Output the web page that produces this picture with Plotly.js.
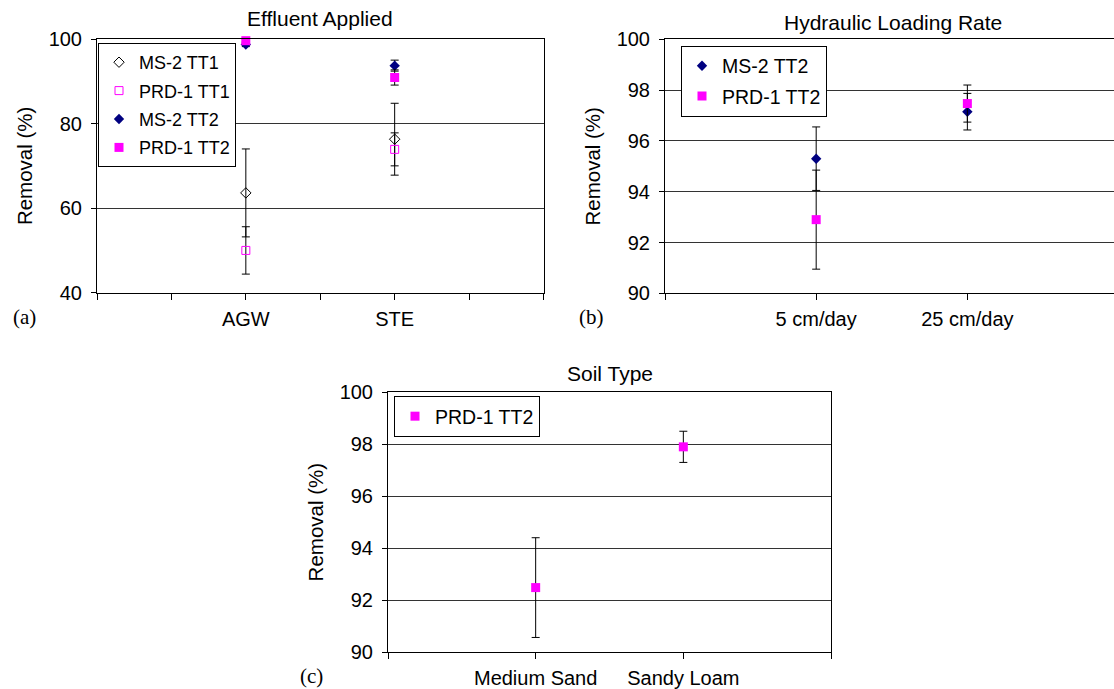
<!DOCTYPE html>
<html>
<head>
<meta charset="utf-8">
<script src="https://cdn.plot.ly/plotly-3.0.1.min.js"></script>
<style>
  html, body { margin: 0; padding: 0; background: #fff; }
  #chart { width: 1114px; height: 689px; }
</style>
</head>
<body>
<div id="chart"></div>
<script>
// ---------------- data ----------------
// Panel (a): Effluent Applied
const catsA = ['AGW', 'STE'];
const ms2TT1_A = [63.6, 76.3];
const ms2TT1_A_err = [10.4, 8.5];
const prd1TT1_A = [50.0, 73.9];
const prd1TT1_A_err = [5.6, 3.9];
const ms2TT2_A = [98.7, 93.7];
const ms2TT2_A_err = [0.5, 1.3];
const prd1TT2_A = [99.6, 90.9];
const prd1TT2_A_err = [0.3, 1.8];

// Panel (b): Hydraulic Loading Rate
const catsB = ['5 cm/day', '25 cm/day'];
const ms2TT2_B = [95.3, 97.15];
const ms2TT2_B_err = [1.25, 0.72];
const prd1TT2_B = [92.9, 97.47];
const prd1TT2_B_err = [1.95, 0.73];

// Panel (c): Soil Type
const catsC = ['Medium Sand', 'Sandy Loam'];
const prd1TT2_C = [92.48, 97.9];
const prd1TT2_C_err = [1.92, 0.6];

// tick labels
const yTicksA = [40, 60, 80, 100];
const yTicksBC = [90, 92, 94, 96, 98, 100];
const titles = ['Effluent Applied', 'Hydraulic Loading Rate', 'Soil Type'];
const panelLabels = ['(a)', '(b)', '(c)'];
const yTitle = 'Removal (%)';

// ---------------- helpers ----------------
const FONT = 'Arial, "Liberation Sans", Helvetica, sans-serif';
const SERIF = '"Times New Roman", "Liberation Serif", "DejaVu Serif", serif';
const NAVY = '#000080';
const MAG = '#FF00FF';

const pos = cats => cats.map((c, i) => i + 1);
const tickText = (vals, cats) => vals.map(v =>
  (Number.isInteger(v) && v >= 1 && v <= cats.length) ? cats[v - 1] : '');

function err(arr) {
  return { type: 'data', array: arr, visible: true, color: '#000', thickness: 1, width: 4 };
}

const sym = {
  ms2TT1: { symbol: 'diamond-open', color: '#000', size: 8, line: { width: 1, color: '#000' } },
  prd1TT1: { symbol: 'square-open', color: MAG, size: 8, line: { width: 1, color: MAG } },
  ms2TT2: { symbol: 'diamond', color: NAVY, size: 8, line: { width: 0 } },
  prd1TT2: { symbol: 'square', color: MAG, size: 9, line: { width: 0 } }
};

function tr(x, y, e, name, marker, xa, ya, legend, grp) {
  return {
    type: 'scatter', mode: 'markers', x: x, y: y, name: name,
    marker: marker, error_y: err(e), xaxis: xa, yaxis: ya,
    legend: legend, legendgroup: grp, cliponaxis: false
  };
}

const xA = pos(catsA), xB = pos(catsB), xC = pos(catsC);

const data = [
  tr(xA, ms2TT1_A, ms2TT1_A_err, 'MS-2 TT1', sym.ms2TT1, 'x', 'y', 'legend', 'a1'),
  tr(xA, prd1TT1_A, prd1TT1_A_err, 'PRD-1 TT1', sym.prd1TT1, 'x', 'y', 'legend', 'a2'),
  tr(xA, ms2TT2_A, ms2TT2_A_err, 'MS-2 TT2', sym.ms2TT2, 'x', 'y', 'legend', 'a3'),
  tr(xA, prd1TT2_A, prd1TT2_A_err, 'PRD-1 TT2', sym.prd1TT2, 'x', 'y', 'legend', 'a4'),
  tr(xB, ms2TT2_B, ms2TT2_B_err, 'MS-2 TT2', sym.ms2TT2, 'x2', 'y2', 'legend2', 'b1'),
  tr(xB, prd1TT2_B, prd1TT2_B_err, 'PRD-1 TT2', sym.prd1TT2, 'x2', 'y2', 'legend2', 'b2'),
  tr(xC, prd1TT2_C, prd1TT2_C_err, 'PRD-1 TT2', sym.prd1TT2, 'x3', 'y3', 'legend3', 'c1')
];

// ---------------- layout ----------------
const W = 1114, H = 689;
const px = v => v / W;
const py = v => 1 - v / H;

function xaxis(domain, range, tickvals, cats, mirror, anchor) {
  return {
    domain: domain, range: range, anchor: anchor,
    tickmode: 'array', tickvals: tickvals, ticktext: tickText(tickvals, cats),
    ticks: 'outside', ticklen: 6, tickwidth: 1, tickcolor: '#000',
    showline: true, linecolor: '#000', linewidth: 1, mirror: mirror,
    showgrid: false, zeroline: false, fixedrange: true,
    ticklabelstandoff: 2,
    tickfont: { family: FONT, size: 20, color: '#000' }
  };
}
function yaxis(domain, range, tickvals, mirror, anchor) {
  return {
    domain: domain, range: range, anchor: anchor,
    tickmode: 'array', tickvals: tickvals,
    ticks: 'outside', ticklen: 5, tickwidth: 1, tickcolor: '#000',
    showline: true, linecolor: '#000', linewidth: 1, mirror: mirror,
    showgrid: true, gridcolor: '#333', gridwidth: 1, zeroline: false, fixedrange: true,
    ticklabelstandoff: 5,
    tickfont: { family: FONT, size: 20, color: '#000' },
    title: { text: yTitle, font: { family: FONT, size: 20.5, color: '#000' }, standoff: 10 }
  };
}
function legend(x, y, yanchor, fs) {
  return {
    x: x, y: y, xanchor: 'left', yanchor: yanchor, xref: 'paper', yref: 'paper',
    bgcolor: '#fff', bordercolor: '#000', borderwidth: 1,
    font: { family: FONT, size: fs, color: '#000' },
    tracegroupgap: 2, itemclick: false, itemdoubleclick: false
  };
}

const layout = {
  width: W, height: H,
  margin: { l: 0, r: 0, t: 0, b: 0 },
  paper_bgcolor: '#fff', plot_bgcolor: '#fff',
  font: { family: FONT, color: '#000' },
  showlegend: true,
  xaxis: xaxis([px(97), px(543.5)], [0, 3], [0, 0.5, 1, 1.5, 2, 2.5, 3], catsA, true, 'y'),
  yaxis: yaxis([py(292.7), py(39)], [40, 100], yTicksA, true, 'x'),
  xaxis2: xaxis([px(665), 1], [0, 2.97], [0, 1, 2], catsB, true, 'y2'),
  yaxis2: yaxis([py(293.3), py(39.3)], [90, 100], yTicksBC, false, 'x2'),
  xaxis3: xaxis([px(388), px(831)], [0, 3], [0, 1, 2, 3], catsC, true, 'y3'),
  yaxis3: yaxis([py(652), py(392.3)], [90, 100], yTicksBC, true, 'x3'),
  legend: legend(px(98), py(105), 'middle', 18),
  legend2: legend(px(681), py(81), 'middle', 19.5),
  legend3: legend(px(394), py(416.5), 'middle', 19.5),
  annotations: [
    { text: titles[0], x: px(320), y: py(18), xref: 'paper', yref: 'paper', showarrow: false,
      xanchor: 'center', yanchor: 'middle', font: { family: FONT, size: 21, color: '#000' } },
    { text: titles[1], x: px(893), y: py(22), xref: 'paper', yref: 'paper', showarrow: false,
      xanchor: 'center', yanchor: 'middle', font: { family: FONT, size: 21, color: '#000' } },
    { text: titles[2], x: px(610), y: py(373), xref: 'paper', yref: 'paper', showarrow: false,
      xanchor: 'center', yanchor: 'middle', font: { family: FONT, size: 21, color: '#000' } },
    { text: panelLabels[0], x: px(11), y: py(317), xref: 'paper', yref: 'paper', showarrow: false,
      xanchor: 'left', yanchor: 'middle', font: { family: SERIF, size: 21, color: '#000' } },
    { text: panelLabels[1], x: px(577), y: py(317), xref: 'paper', yref: 'paper', showarrow: false,
      xanchor: 'left', yanchor: 'middle', font: { family: SERIF, size: 21, color: '#000' } },
    { text: panelLabels[2], x: px(298), y: py(676), xref: 'paper', yref: 'paper', showarrow: false,
      xanchor: 'left', yanchor: 'middle', font: { family: SERIF, size: 21, color: '#000' } }
  ]
};

Plotly.newPlot('chart', data, layout, { staticPlot: true, displayModeBar: false });
</script>
</body>
</html>
